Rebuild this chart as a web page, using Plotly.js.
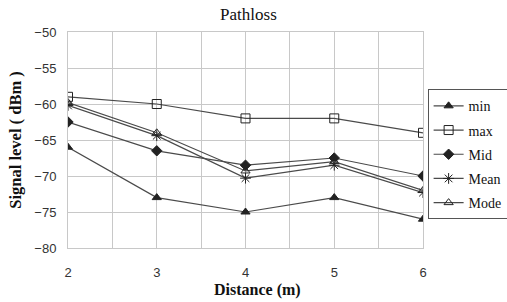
<!DOCTYPE html>
<html>
<head>
<meta charset="utf-8">
<script src="https://cdn.plot.ly/plotly-3.0.1.min.js"></script>
<style>html,body{margin:0;padding:0;background:#fff;}#chart{width:507px;height:302px;}</style>
</head>
<body>
<div id="chart"></div>
<script>
const distance = [2, 3, 4, 5, 6];
const minVals  = [-66, -73, -75, -73, -76];
const maxVals  = [-59, -60, -62, -62, -64];
const midVals  = [-62.5, -66.5, -68.5, -67.5, -70];
const meanVals = [-60.2, -64.4, -70.3, -68.5, -72.3];
const modeVals = [-59.8, -64, -69.3, -68, -72];
const seriesNames = ['min', 'max', 'Mid', 'Mean', 'Mode'];
const xTicks = [2, 3, 4, 5, 6];

const lineColor = '#4a4a4a';
function tr(name, y, symbol, size) {
  return {
    x: distance, y: y, name: name, legendgroup: name, type: 'scatter', mode: 'lines+markers',
    line: {color: lineColor, width: 1.2},
    marker: {symbol: symbol, size: size, color: '#222', line: {color: '#222', width: 1}}
  };
}
const data = [
  tr(seriesNames[0], minVals, 'triangle-up', 8),
  tr(seriesNames[1], maxVals, 'square-open', 9),
  tr(seriesNames[2], midVals, 'diamond', 8),
  tr(seriesNames[3], meanVals, 'asterisk-open', 9),
  tr(seriesNames[4], modeVals, 'triangle-up-open', 8)
];
const serif = 'Liberation Serif';
const sans = 'Liberation Sans, Arial, sans-serif';
const layout = {
  width: 507, height: 302,
  margin: {l: 68, r: 84, t: 32, b: 54, autoexpand: false},
  paper_bgcolor: '#fff', plot_bgcolor: '#fff',
  showlegend: true,
  title: {text: 'Pathloss', font: {family: serif, size: 17, color: '#111'}, x: 0.49, xanchor: 'center', y: 0.955, yanchor: 'middle'},
  xaxis: {
    range: [2, 6], tickvals: xTicks, ticktext: xTicks.map(String),
    showgrid: true, gridcolor: '#c8c8c8', gridwidth: 1,
    minor: {dtick: 0.5, showgrid: true, gridcolor: '#c8c8c8', gridwidth: 1},
    zeroline: false, showline: true, linecolor: '#c8c8c8', mirror: true,
    ticks: 'outside', ticklen: 12, tickcolor: 'rgba(0,0,0,0)',
    tickfont: {family: sans, size: 13, color: '#333'}
  },
  yaxis: {
    range: [-80, -50], dtick: 5,
    showgrid: true, gridcolor: '#c8c8c8', gridwidth: 1,
    zeroline: false, showline: true, linecolor: '#c8c8c8', mirror: true,
    ticks: 'outside', ticklen: 8, tickcolor: 'rgba(0,0,0,0)',
    tickfont: {family: sans, size: 13, color: '#333'},
    title: {text: '<b>Signal level ( dBm )</b>', font: {family: serif, size: 16.5, color: '#111'}, standoff: 8}
  },
  annotations: [{
    text: '<b>Distance (m)</b>', xref: 'paper', yref: 'paper', x: 0.535, y: -0.195,
    xanchor: 'center', yanchor: 'middle', showarrow: false,
    font: {family: serif, size: 16, color: '#111'}
  }],
  legend: {
    x: 1.013, y: 0.735, xanchor: 'left', yanchor: 'top',
    bordercolor: '#555', borderwidth: 1, bgcolor: '#fff',
    font: {family: serif, size: 14, color: '#111'},
    itemwidth: 30, tracegroupgap: 3
  }
};
Plotly.newPlot('chart', data, layout, {displayModeBar: false, staticPlot: true});
</script>
</body>
</html>
